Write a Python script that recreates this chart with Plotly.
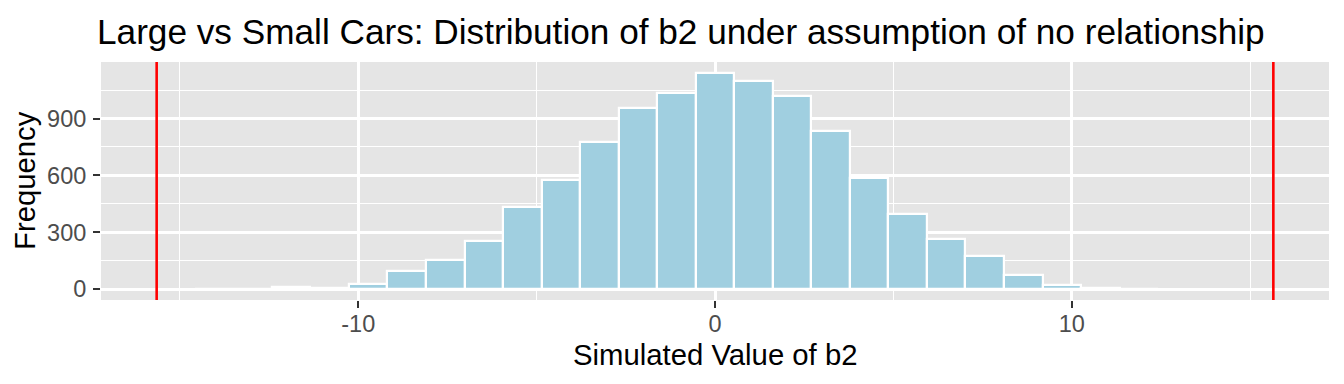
import plotly.graph_objects as go

# ---- data ----
bin_width = 1.08
bin_centers = [-14.04, -12.96, -11.88, -10.80, -9.72, -8.64, -7.56, -6.48, -5.40, -4.32,
               -3.24, -2.16, -1.08, 0.0, 1.08, 2.16, 3.24, 4.32, 5.40, 6.48,
               7.56, 8.64, 9.72, 10.80, 11.88]
counts = [2, 3, 14, 8, 30, 98, 153, 254, 436, 578,
          776, 958, 1034, 1141, 1099, 1018, 833, 588, 397, 265,
          174, 76, 20, 7, 3]
observed_b2 = [-15.65, 15.65]
x_tick_vals = [-10, 0, 10]
x_tick_text = ["-10", "0", "10"]
y_tick_vals = [0, 300, 600, 900]
y_tick_text = ["0", "300", "600", "900"]

title_text = "Large vs Small Cars: Distribution of b2 under assumption of no relationship"
x_title = "Simulated Value of b2"
y_title = "Frequency"

FONT = "Liberation Sans, Arial, Helvetica, sans-serif"
PANEL = "#E5E5E5"
FILL = "#A0CFE0"

W, H = 1344, 384
L, R, T, B = 101, 15, 62, 84
plot_h = H - T - B

fig = go.Figure()
fig.add_trace(go.Bar(
    x=bin_centers, y=counts, width=bin_width,
    marker=dict(color=FILL, line=dict(color="white", width=2.2)),
    showlegend=False, hoverinfo="x+y",
))

for v in observed_b2:
    fig.add_shape(type="line", xref="x", yref="paper", x0=v, x1=v, y0=0, y1=1,
                  line=dict(color="#FF0000", width=2.6), layer="above")

fig.update_layout(
    width=W, height=H,
    margin=dict(l=L, r=R, t=T, b=B, autoexpand=False),
    paper_bgcolor="white", plot_bgcolor=PANEL,
    bargap=0,
    font=dict(family=FONT, color="black"),
    title=dict(text=title_text, x=97/W, xref="container", xanchor="left",
               y=1 - 32/H, yref="container", yanchor="middle",
               font=dict(size=35.2, color="black", family=FONT)),
    annotations=[
        dict(text=x_title, xref="paper", yref="paper", x=0.5, y=(300 - 354) / plot_h,
             xanchor="center", yanchor="middle", showarrow=False,
             font=dict(size=29.3, color="black", family=FONT)),
        dict(text=y_title, xref="paper", yref="paper", x=-(101 - 24) / (W - L - R), y=0.5,
             xanchor="center", yanchor="middle", showarrow=False, textangle=-90,
             font=dict(size=29.3, color="black", family=FONT)),
    ],
)
fig.update_xaxes(
    range=[-17.21, 17.21], tickmode="array", tickvals=x_tick_vals, ticktext=x_tick_text,
    ticks="outside", ticklen=7, tickwidth=2.4, tickcolor="#333333",
    tickfont=dict(size=23.5, color="#4D4D4D", family=FONT), ticklabelstandoff=-4,
    showgrid=True, gridcolor="white", gridwidth=2.6, zeroline=False, showline=False,
    minor=dict(tickmode="array", tickvals=[-15, -5, 5, 15], showgrid=True,
               gridcolor="white", gridwidth=1.3),
    automargin=False,
)
fig.update_yaxes(
    range=[-57, 1198], tickmode="array", tickvals=y_tick_vals, ticktext=y_tick_text,
    ticks="outside", ticklen=7, tickwidth=2.4, tickcolor="#333333",
    tickfont=dict(size=23.5, color="#4D4D4D", family=FONT), ticklabelstandoff=2,
    showgrid=True, gridcolor="white", gridwidth=2.6, zeroline=False, showline=False,
    minor=dict(tickmode="array", tickvals=[150, 450, 750, 1050], showgrid=True,
               gridcolor="white", gridwidth=1.3),
    automargin=False,
)

fig.write_html("out.html", config={"displayModeBar": False},
               post_script="document.body.style.margin='0px';document.body.style.overflow='hidden';")
